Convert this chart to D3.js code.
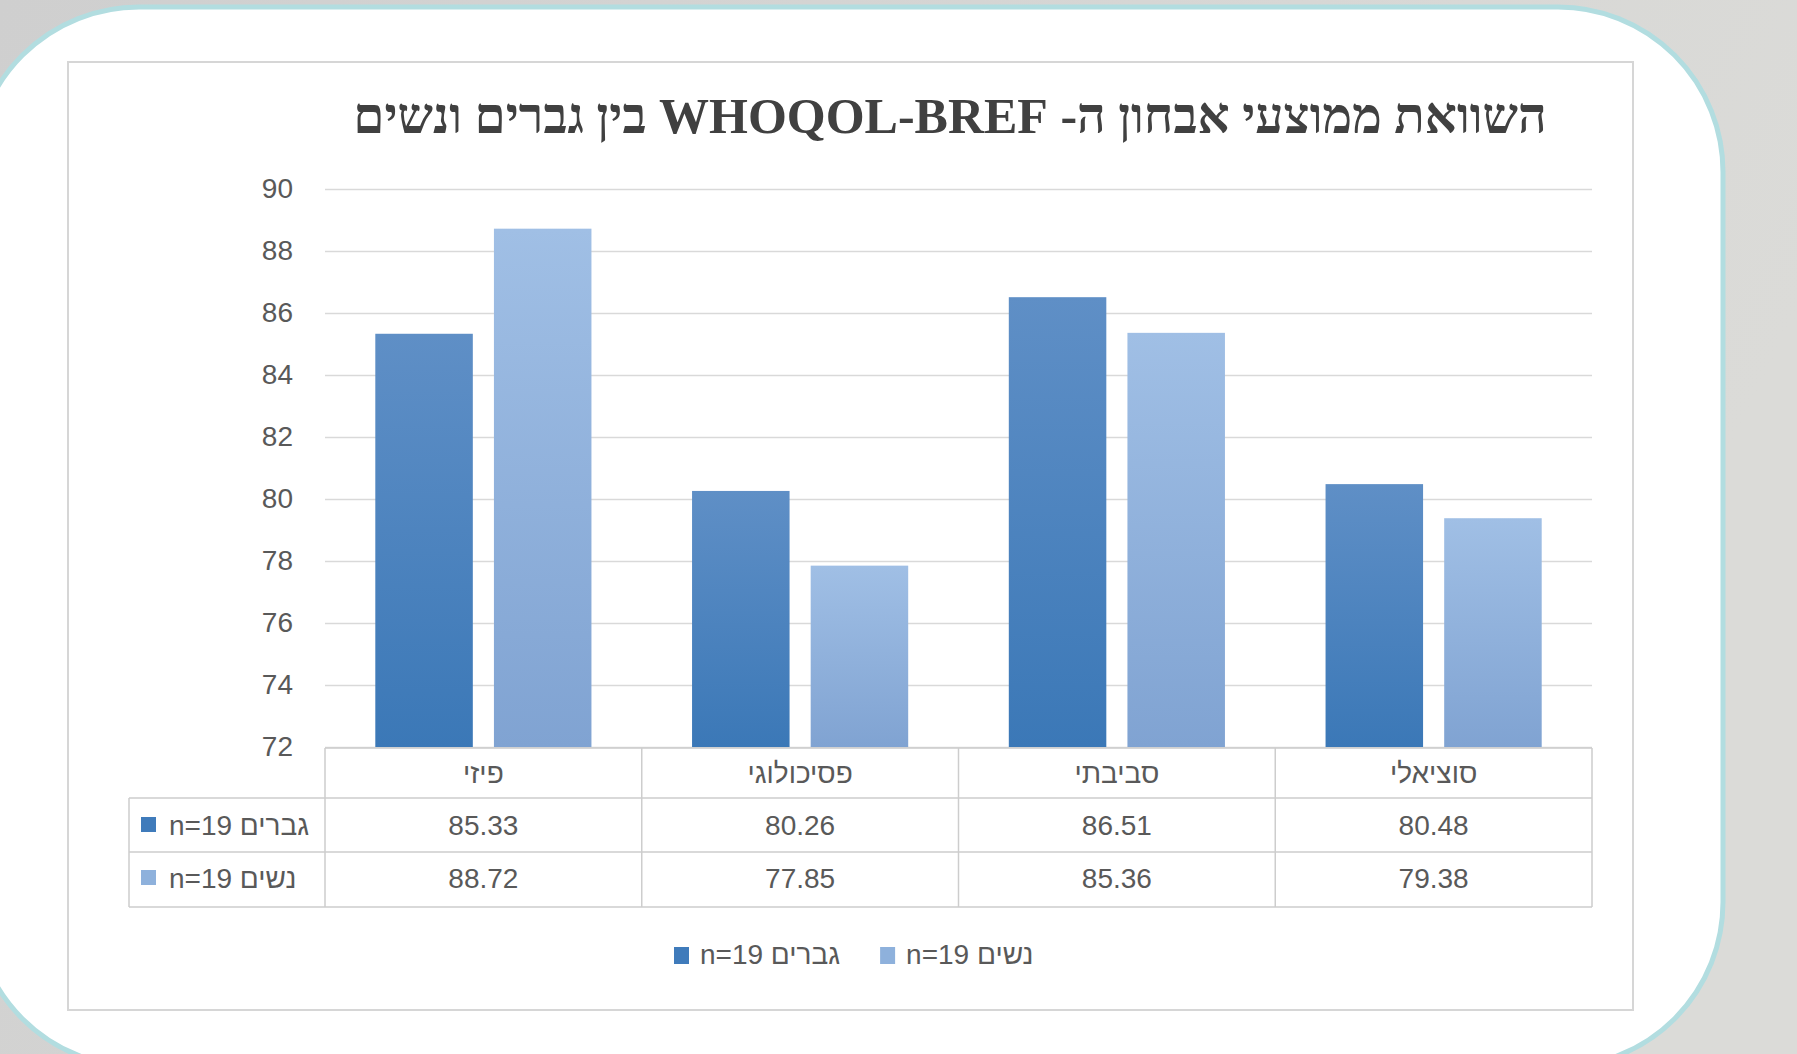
<!DOCTYPE html>
<html>
<head>
<meta charset="utf-8">
<script src="https://cdn.jsdelivr.net/npm/d3@7"></script>
<style>
  html, body { margin: 0; padding: 0; overflow: hidden; }
  svg { display: block; }
</style>
</head>
<body>
<svg id="svg"></svg>
<script>
// data
let categories = ["פיזי", "פסיכולוגי", "סביבתי", "סוציאלי"];
let seriesNames = ["גברים n=19", "נשים n=19"];
let men = [85.33, 80.26, 86.51, 80.48];
let women = [88.72, 77.85, 85.36, 79.38];
let yTicks = [72, 74, 76, 78, 80, 82, 84, 86, 88, 90];
let title = "השוואת ממוצעי אבחון ה- WHOQOL-BREF בין גברים ונשים";

let width = 1797, height = 1054;
let font = "'Liberation Sans', Arial, 'DejaVu Sans', sans-serif";
let textColor = "#595959";
let lineColor = "#cdcdcd";

let svg = d3.select("#svg").attr("width", width).attr("height", height);
let defs = svg.append("defs");

// background
let bg = defs.append("linearGradient").attr("id", "bg").attr("x1", 0).attr("x2", 1).attr("y1", 0).attr("y2", 0.3);
bg.append("stop").attr("offset", 0).attr("stop-color", "#cfcfcf");
bg.append("stop").attr("offset", 1).attr("stop-color", "#dbdbd8");
svg.append("rect").attr("width", width).attr("height", height).attr("fill", "url(#bg)");

// bar gradients
function grad(id, c1, c2) {
    let g = defs.append("linearGradient").attr("id", id).attr("x1", 0).attr("x2", 0).attr("y1", 0).attr("y2", 1);
    g.append("stop").attr("offset", 0).attr("stop-color", c1);
    g.append("stop").attr("offset", 1).attr("stop-color", c2);
}
grad("g0", "#5f8fc6", "#3b78b7");
grad("g1", "#a0bfe5", "#80a3d2");
let swatch = ["#3f7bbb", "#8eb1dc"];

// white panel
svg.append("rect")
    .attr("x", -26).attr("y", 7).attr("width", 1749).attr("height", 1060)
    .attr("rx", 165).attr("ry", 165)
    .attr("fill", "#ffffff").attr("stroke", "#b2dde0").attr("stroke-width", 5);

// chart box
svg.append("rect")
    .attr("x", 68).attr("y", 62).attr("width", 1565).attr("height", 948)
    .attr("fill", "#ffffff").attr("stroke", "#d6d6d6").attr("stroke-width", 2);

// title
svg.append("text")
    .attr("x", 950).attr("y", 133)
    .attr("text-anchor", "middle")
    .attr("direction", "rtl")
    .style("font-family", "'Liberation Serif', 'Times New Roman', serif")
    .style("font-weight", "bold")
    .style("font-size", "50px")
    .attr("fill", "#404040")
    .text(title);

// scales
let plotLeft = 325, plotRight = 1592, plotTop = 189, plotBottom = 747;
let x = d3.scaleBand().domain(categories).range([plotLeft, plotRight]);
let xs = d3.scaleBand().domain([0, 1]).range([0, x.bandwidth()]).paddingInner(0.178).paddingOuter(0.424);
let y = d3.scaleLinear().domain([72, 90]).range([plotBottom, plotTop]);

// grid + y axis
let yAxis = svg.append("g")
    .attr("transform", `translate(${plotLeft},0)`)
    .call(d3.axisLeft(y).tickValues(yTicks).tickSizeInner(-(plotRight - plotLeft)).tickSizeOuter(0).tickPadding(32));
yAxis.select(".domain").remove();
yAxis.selectAll(".tick line").attr("stroke", "#d9d9d9").attr("stroke-width", 1.5);
yAxis.selectAll(".tick text")
    .attr("fill", textColor)
    .style("font-family", font)
    .style("font-size", "28px");

// bars
let series = [men, women];
series.forEach(function(vals, si) {
    svg.append("g").selectAll("rect")
        .data(vals)
        .join("rect")
        .attr("x", (d, i) => x(categories[i]) + xs(si))
        .attr("width", xs.bandwidth())
        .attr("y", d => y(d))
        .attr("height", d => y(72) - y(d))
        .attr("fill", `url(#g${si})`);
});

// data table
let rowTop = plotBottom + 1, rowH = [50, 54, 55];
let r1 = rowTop + rowH[0], r2 = r1 + rowH[1], r3 = r2 + rowH[2];
let tableLeft = 129;
let tg = svg.append("g").attr("stroke", lineColor).attr("stroke-width", 1.5);
tg.append("line").attr("x1", plotLeft).attr("x2", plotRight).attr("y1", rowTop).attr("y2", rowTop);
[r1, r2, r3].forEach(function(yy) {
    tg.append("line").attr("x1", tableLeft).attr("x2", plotRight).attr("y1", yy).attr("y2", yy);
});
tg.append("line").attr("x1", tableLeft).attr("x2", tableLeft).attr("y1", r1).attr("y2", r3);
categories.concat([null]).forEach(function(c) {
    let xx = c === null ? plotRight : x(c);
    tg.append("line").attr("x1", xx).attr("x2", xx).attr("y1", rowTop).attr("y2", r3);
});

function label(sel) {
    return sel.attr("fill", textColor).style("font-family", font).style("font-size", "28px");
}

// category row
svg.append("g").selectAll("text")
    .data(categories)
    .join("text")
    .attr("x", d => x(d) + x.bandwidth() / 2)
    .attr("y", rowTop + 35)
    .attr("text-anchor", "middle")
    .attr("direction", "rtl")
    .text(d => d)
    .call(label);

// value rows
let rowBase = [r1 + 37, r2 + 36];
series.forEach(function(vals, si) {
    svg.append("g").selectAll("text")
        .data(vals)
        .join("text")
        .attr("x", (d, i) => x(categories[i]) + x.bandwidth() / 2)
        .attr("y", rowBase[si])
        .attr("text-anchor", "middle")
        .text(d => d.toFixed(2))
        .call(label);

    // row header: swatch + name
    let cy = rowBase[si] - 10;
    svg.append("rect")
        .attr("x", 141).attr("y", cy - 8).attr("width", 15).attr("height", 15)
        .attr("fill", swatch[si]);
    let t = svg.append("text")
        .attr("y", rowBase[si])
        .attr("text-anchor", "middle")
        .attr("direction", "rtl")
        .text(seriesNames[si])
        .call(label);
    let len = t.node().getComputedTextLength();
    t.attr("x", 169 + len / 2);
});

// legend
let lx = 674, ly = 964;
series.forEach(function(vals, si) {
    svg.append("rect")
        .attr("x", lx).attr("y", ly - 17).attr("width", 15).attr("height", 17)
        .attr("fill", swatch[si]);
    let t = svg.append("text")
        .attr("y", ly)
        .attr("text-anchor", "middle")
        .attr("direction", "rtl")
        .text(seriesNames[si])
        .call(label);
    let len = t.node().getComputedTextLength();
    t.attr("x", lx + 26 + len / 2);
    lx = lx + 26 + len + 40;
});
</script>
</body>
</html>
